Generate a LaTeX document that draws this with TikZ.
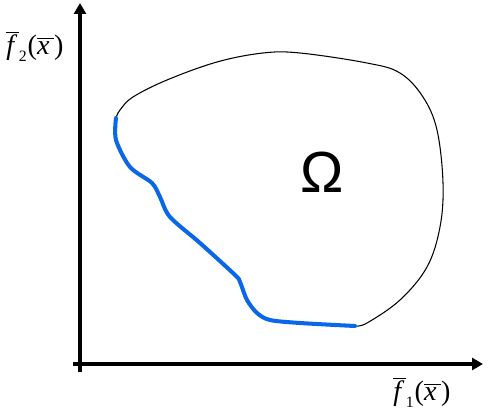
\documentclass[tikz,border=0pt]{standalone}
\usepackage{fontspec}
\setmainfont{Liberation Serif}
\newfontfamily\omegafont{Liberation Sans}
\usetikzlibrary{arrows.meta}
\definecolor{frontblue}{RGB}{10,104,232}

\newcommand{\barit}[1]{\overline{\hbox{\itshape #1\,}}}

\begin{document}
\begin{tikzpicture}[
    x=0.02cm, y=-0.02cm,
    axis/.style={line width=2.2pt, -{Triangle[width=0.24cm, length=0.22cm]}},
    region/.style={draw=black, line width=0.6pt},
    front/.style={draw=frontblue, line width=2.3pt, line cap=round},
    axlabel/.style={font=\fontsize{16}{18}\selectfont, inner sep=0pt}
  ]
    \useasboundingbox (0,0) rectangle (493,412);

    % Axes
    \coordinate (o1) at (73,364);
    \coordinate (xend) at (483,364);
    \coordinate (o2) at (80,372);
    \coordinate (yend) at (80,3);
    \draw[axis] (o1) -- (xend);
    \draw[axis] (o2) -- (yend);

    % Axis labels
    \node[axlabel] (f1) at (422,392) {$\barit{f}_{\hbox{\small 1}}\hbox{(}\barit{x}\hbox{)}$};
    \node[axlabel] (f2) at (35,46) {$\barit{f}_{\hbox{\small 2}}\hbox{(}\barit{x}\hbox{)}$};

    % Feasible region (black part)
    \draw[region] plot[smooth, tension=0.6] coordinates {
      (355,326) (367,323) (400,300) (427,267) (440,227) (443,183)
      (437,130) (423,97) (400,73) (367,63) (300,53) (263,53)
      (217,62) (167,80) (133,97) (120,110) (116,118)};

    % Pareto front (blue part)
    \draw[front] plot[smooth, tension=0.5] coordinates {
      (116,118) (116,140) (130,167) (152,183) (160,197) (170,217)
      (200,243) (235,275) (240,282) (247,300) (257,313) (270,320)
      (300,323) (355,326)};

    % Region label
    \node[font=\omegafont\fontsize{33}{35}\selectfont] (omega) at (322,172) {$\hbox{Ω}$};

  \end{tikzpicture}
\end{document}
